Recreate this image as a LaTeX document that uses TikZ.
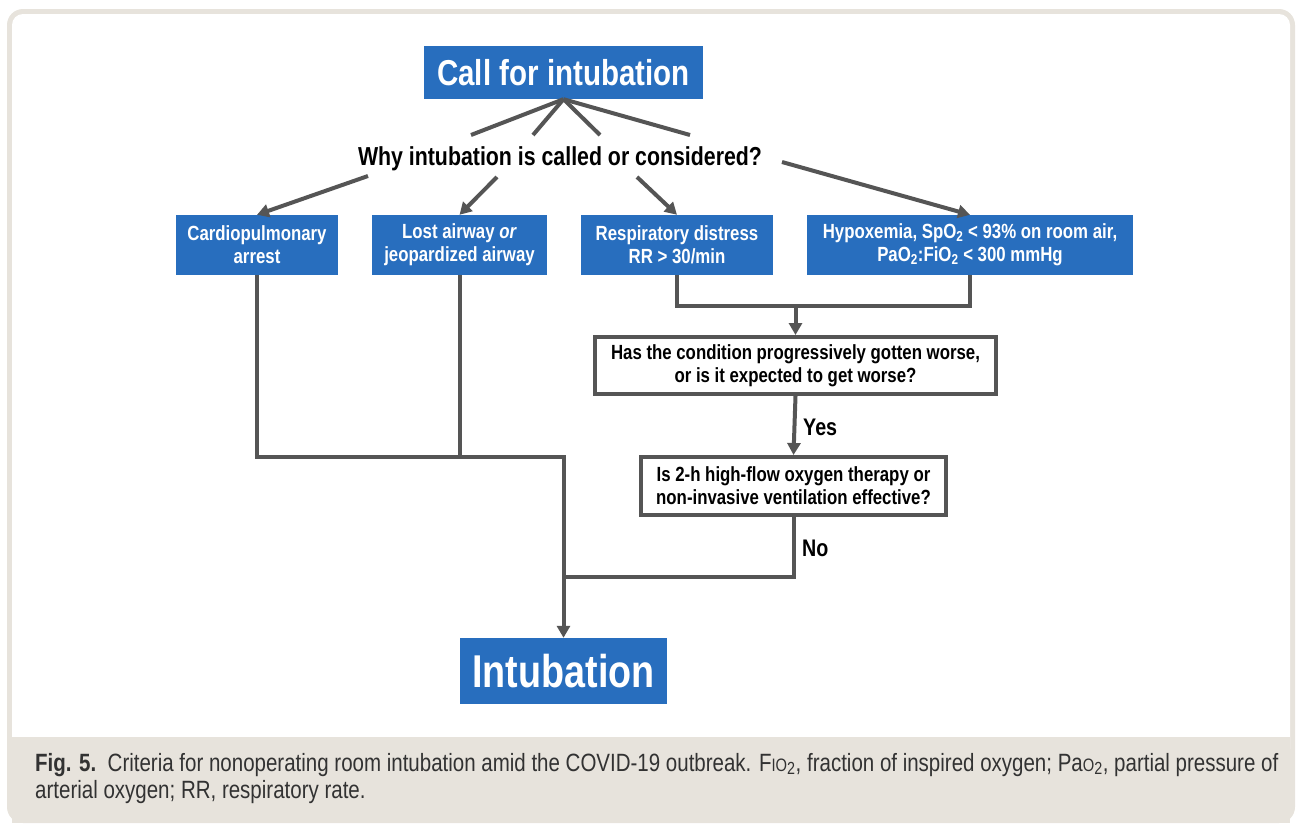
\documentclass[tikz,border=0pt]{standalone}
\usepackage{fontspec}
\setmainfont{Liberation Sans}[FakeStretch=0.82]
\usetikzlibrary{arrows.meta}
\definecolor{boxblue}{RGB}{40,110,190}
\definecolor{linegray}{RGB}{85,85,85}
\definecolor{framebeige}{RGB}{231,227,220}
\definecolor{captext}{RGB}{50,50,50}
\newcommand{\fsize}[2]{\fontsize{#1}{#2}\selectfont}
\newcommand{\capsmall}[1]{{\fsize{18}{20}#1}}
\tikzset{
  bluebox/.style={fill=boxblue, text=white, font=\bfseries\fsize{20.5}{23}, align=center, inner sep=0pt},
  askbox/.style={draw=linegray, line width=4pt, fill=white, font=\bfseries\fsize{20.5}{23}, align=center, inner sep=0pt},
  link/.style={draw=linegray, line width=4pt},
  arrowlink/.style={link, -{Triangle[length=12pt,width=13pt]}},
  answer/.style={font=\bfseries\fsize{24}{26}, anchor=west, inner sep=0pt},
  captxt/.style={text=captext, font=\fsize{25}{28}, anchor=base west, inner sep=0pt}
}

\begin{document}
\begin{tikzpicture}[x=1pt, y=-1pt]
  \useasboundingbox (0,0) rectangle (1296,825);
  % frame and caption band
  \fill[framebeige, rounded corners=16pt] (7,9) rectangle (1295,823);
  \fill[white, rounded corners=11pt] (12,14) rectangle (1290,760);
  \fill[framebeige] (12,737) rectangle (1290,823);

  % top
  \node[bluebox, font=\bfseries\fsize{36}{40}, minimum width=279pt, minimum height=53pt] (call) at (563.5,72.5) {Call for intubation};
  \node[font=\bfseries\fsize{26}{30}, inner sep=0pt] (why) at (560,159) {Why intubation is called or considered?};
  \coordinate (w1) at (471,135);
  \coordinate (w2) at (533,135);
  \coordinate (w3) at (600,135);
  \coordinate (w4) at (690,135);
  \coordinate (v1) at (368,176);
  \coordinate (v2) at (497,177);
  \coordinate (v3) at (637,177);
  \coordinate (v4) at (782,162);

  % reasons
  \node[bluebox, minimum width=162pt, minimum height=60pt] (cpr) at (257,245) {Cardiopulmonary\\arrest};
  \node[bluebox, minimum width=175pt, minimum height=60pt] (airway) at (459.5,245) {Lost airway \textit{or}\\jeopardized airway};
  \node[bluebox, minimum width=192pt, minimum height=60pt] (resp) at (677,245) {Respiratory distress\\RR > 30/min};
  \node[bluebox, minimum width=326pt, minimum height=60pt] (hypo) at (970,245) {Hypoxemia, SpO\textsubscript{2} < 93\% on room air,\\PaO\textsubscript{2}:FiO\textsubscript{2} < 300 mmHg};

  % questions
  \node[askbox, minimum width=401pt, minimum height=57pt] (worse) at (795.5,365.5) {Has the condition progressively gotten worse,\\or is it expected to get worse?};
  \node[askbox, minimum width=305pt, minimum height=58pt] (effect) at (793.5,486) {Is 2-h high-flow oxygen therapy or\\non-invasive ventilation effective?};
  \node[answer] (yes) at (803,427) {Yes};
  \node[answer] (no) at (802,548) {No};

  \node[bluebox, font=\bfseries\fsize{46}{50}, minimum width=207pt, minimum height=66pt] (intub) at (563.5,671) {Intubation};

  \coordinate (jM) at (795.5,306);
  \coordinate (jL) at (563.5,457);
  \coordinate (jR) at (563.5,577);

  % connectors
  \foreach \w in {w1,w2,w3,w4}
    \draw[link] (call.south) -- (\w);
  \draw[arrowlink] (v1) -- (cpr.north);
  \draw[arrowlink] (v2) -- (airway.north);
  \draw[arrowlink] (v3) -- (resp.north);
  \draw[arrowlink] (v4) -- (hypo.north);
  \draw[link] (resp.south) |- (jM) -| (hypo.south);
  \draw[arrowlink] (jM) -- (worse.north);
  \draw[arrowlink] (worse.south) -- (effect.north);
  \draw[arrowlink] (cpr.south) |- (jL) -- (intub.north);
  \draw[link] (airway.south) -- (airway.south |- jL);
  \draw[link] (effect.south) |- (jR);

  % caption
  \node[captxt] (cap1) at (35,771) {\textbf{Fig. 5.}\ \ Criteria for nonoperating room intubation amid the COVID-19 outbreak. F\capsmall{IO}\textsubscript{2}, fraction of inspired oxygen; Pa\capsmall{O}\textsubscript{2}, partial pressure of};
  \node[captxt] (cap2) at (35,798) {arterial oxygen; RR, respiratory rate.};
\end{tikzpicture}
\end{document}
